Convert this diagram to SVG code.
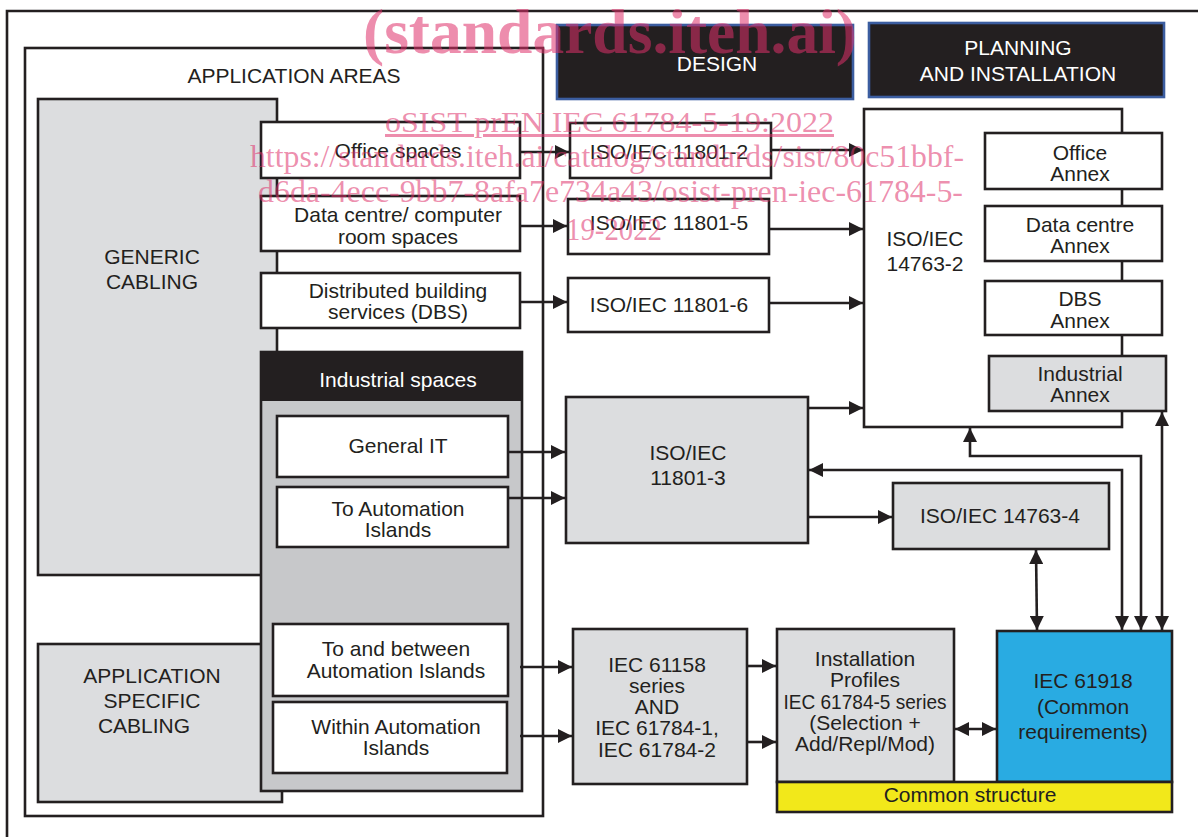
<svg xmlns="http://www.w3.org/2000/svg" width="1198" height="837" viewBox="0 0 1198 837">
<defs>
<marker id="ah" markerUnits="userSpaceOnUse" markerWidth="14" markerHeight="14" refX="14" refY="7" orient="auto-start-reverse" viewBox="0 0 14 14">
<path d="M0,0 L14,7 L0,14 z" fill="#231f20"/>
</marker>
<style>
.box{stroke:#231f20;stroke-width:2.6;fill:#ffffff}
.gray{fill:#dcdddf}
.dark{fill:#231f20}
.hdr{fill:#231f20;stroke:#3b5da0;stroke-width:2.6}
.t{font-family:"Liberation Sans",Arial,Helvetica,sans-serif;font-size:21px;fill:#231f20;text-anchor:middle}
.w{fill:#ffffff}
.c{fill:none;stroke:#231f20;stroke-width:2.6;marker-end:url(#ah)}
.c2{fill:none;stroke:#231f20;stroke-width:2.6;marker-end:url(#ah);marker-start:url(#ah)}
.wm{font-family:"Liberation Serif","Times New Roman",serif;fill:#de2f69;fill-opacity:0.55;text-anchor:start}
</style>
</defs>
<rect width="1198" height="837" fill="#ffffff"/>
<g id="frame"><path d="M1198,11 H7 V837" fill="none" stroke="#231f20" stroke-width="2.6"/></g>

<g id="application-areas"><rect class="box" x="25" y="48" width="518" height="768"/><text class="t" x="294" y="83">APPLICATION AREAS</text></g>
<g id="generic-cabling"><rect class="box gray" x="38" y="99" width="239" height="476"/><text class="t" x="152" y="264">GENERIC</text><text class="t" x="152" y="289">CABLING</text></g>
<g id="application-specific"><rect class="box gray" x="38" y="644" width="244" height="158"/><text class="t" x="152" y="683">APPLICATION</text><text class="t" x="152" y="708">SPECIFIC</text><text class="t" x="144" y="733">CABLING</text></g>

<g id="industrial-spaces"><rect class="box" x="261" y="352" width="261" height="439" style="fill:#c7c8ca"/><rect x="261" y="352" width="261" height="49" class="dark"/><text class="t w" x="398" y="387">Industrial spaces</text></g>
<g id="general-it"><rect class="box" x="277" y="416" width="231" height="61"/><text class="t" x="398" y="453">General IT</text></g>
<g id="to-automation"><rect class="box" x="277" y="487" width="231" height="60"/><text class="t" x="398" y="516">To Automation</text><text class="t" x="398" y="537">Islands</text></g>
<g id="to-and-between"><rect class="box" x="273" y="624" width="235" height="72"/><text class="t" x="396" y="656">To and between</text><text class="t" x="396" y="678">Automation Islands</text></g>
<g id="within"><rect class="box" x="273" y="702" width="234" height="71"/><text class="t" x="396" y="734">Within Automation</text><text class="t" x="396" y="755">Islands</text></g>

<g id="office-spaces"><rect class="box" x="261" y="122" width="259" height="56"/><text class="t" x="398" y="158">Office spaces</text></g>
<g id="data-centre"><rect class="box" x="261" y="196" width="259" height="55"/><text class="t" x="398" y="222">Data centre/ computer</text><text class="t" x="398" y="244">room spaces</text></g>
<g id="dbs"><rect class="box" x="261" y="273" width="259" height="55"/><text class="t" x="398" y="298">Distributed building</text><text class="t" x="398" y="319">services (DBS)</text></g>

<g id="design"><rect class="hdr" x="557" y="25" width="296" height="74"/><text class="t w" x="717" y="71">DESIGN</text></g>
<g id="planning"><rect class="hdr" x="869" y="23" width="295" height="74"/><text class="t w" x="1018" y="55">PLANNING</text><text class="t w" x="1018" y="81">AND INSTALLATION</text></g>

<g id="iso-11801-2"><rect class="box" x="570" y="123" width="201" height="55"/><text class="t" x="669" y="159">ISO/IEC 11801-2</text></g>
<g id="iso-11801-5"><rect class="box" x="568" y="199" width="201" height="55"/><text class="t" x="669" y="230">ISO/IEC 11801-5</text></g>
<g id="iso-11801-6"><rect class="box" x="568" y="278" width="201" height="54"/><text class="t" x="669" y="312">ISO/IEC 11801-6</text></g>

<g id="iso-14763-2"><rect class="box" x="864" y="109" width="258" height="318"/><text class="t" x="925" y="246">ISO/IEC</text><text class="t" x="925" y="271">14763-2</text></g>
<g id="office-annex"><rect class="box" x="985" y="133" width="177" height="56"/><text class="t" x="1080" y="160">Office</text><text class="t" x="1080" y="181">Annex</text></g>
<g id="dc-annex"><rect class="box" x="985" y="206" width="177" height="55"/><text class="t" x="1080" y="232">Data centre</text><text class="t" x="1080" y="253">Annex</text></g>
<g id="dbs-annex"><rect class="box" x="985" y="281" width="177" height="54"/><text class="t" x="1080" y="306">DBS</text><text class="t" x="1080" y="328">Annex</text></g>
<g id="industrial-annex"><rect class="box gray" x="989" y="356" width="177" height="55"/><text class="t" x="1080" y="381">Industrial</text><text class="t" x="1080" y="402">Annex</text></g>

<g id="iso-11801-3"><rect class="box gray" x="566" y="397" width="242" height="146"/><text class="t" x="688" y="460">ISO/IEC</text><text class="t" x="688" y="485">11801-3</text></g>
<g id="iso-14763-4"><rect class="box gray" x="893" y="483" width="216" height="66"/><text class="t" x="1000" y="523">ISO/IEC 14763-4</text></g>

<g id="iec-61158"><rect class="box gray" x="573" y="629" width="174" height="155"/><text class="t" x="657" y="672">IEC 61158</text><text class="t" x="657" y="693">series</text><text class="t" x="657" y="714">AND</text><text class="t" x="657" y="735">IEC 61784-1,</text><text class="t" x="657" y="757">IEC 61784-2</text></g>
<g id="installation-profiles"><rect class="box gray" x="777" y="629" width="177" height="153"/><text class="t" x="865" y="666">Installation</text><text class="t" x="865" y="687">Profiles</text><text class="t" x="865" y="709" textLength="163" lengthAdjust="spacingAndGlyphs">IEC 61784-5 series</text><text class="t" x="865" y="730">(Selection +</text><text class="t" x="865" y="751">Add/Repl/Mod)</text></g>
<g id="iec-61918"><rect class="box" x="997" y="631" width="175" height="151" style="fill:#29abe2"/><text class="t" x="1083" y="688">IEC 61918</text><text class="t" x="1083" y="714">(Common</text><text class="t" x="1083" y="739">requirements)</text></g>
<g id="common-structure"><rect class="box" x="777" y="782" width="395" height="30" style="fill:#f2e81a"/><text class="t" x="970" y="802">Common structure</text></g>

<g id="connectors">
<path class="c" d="M520,152 H569"/>
<path class="c" d="M520,226 H567"/>
<path class="c" d="M520,302 H567"/>
<path class="c" d="M771,150 H863"/>
<path class="c" d="M769,229 H863"/>
<path class="c" d="M769,303 H863"/>
<path class="c" d="M508,452 H565"/>
<path class="c" d="M508,498 H565"/>
<path class="c" d="M808,408 H863"/>
<path class="c" d="M808,517 H892"/>
<path class="c2" d="M1122,630 V470 H809"/>
<path class="c2" d="M1141,630 V456 H970 V428"/>
<path class="c2" d="M1162,630 V412"/>
<path class="c2" d="M1036,550 L1037,630"/>
<path class="c" d="M520,667 H572"/>
<path class="c" d="M520,736 H572"/>
<path class="c" d="M747,666 H776"/>
<path class="c" d="M747,742 H776"/>
<path class="c2" d="M955,729 H996"/>
</g>

<g id="watermark">
<text class="wm" x="363" y="53" font-size="64" font-weight="bold" textLength="494" lengthAdjust="spacingAndGlyphs">(standards.iteh.ai)</text>
<text class="wm" x="385" y="132" font-size="30" textLength="449" lengthAdjust="spacingAndGlyphs" text-decoration="underline">oSIST prEN IEC 61784-5-19:2022</text>
<text class="wm" x="250" y="167" font-size="31" textLength="714" lengthAdjust="spacingAndGlyphs">https://standards.iteh.ai/catalog/standards/sist/80c51bbf-</text>
<text class="wm" x="258" y="202" font-size="31" textLength="705" lengthAdjust="spacingAndGlyphs">d6da-4ecc-9bb7-8afa7e734a43/osist-pren-iec-61784-5-</text>
<text class="wm" x="566" y="240" font-size="31" textLength="96" lengthAdjust="spacingAndGlyphs">19-2022</text>
</g>
</svg>
